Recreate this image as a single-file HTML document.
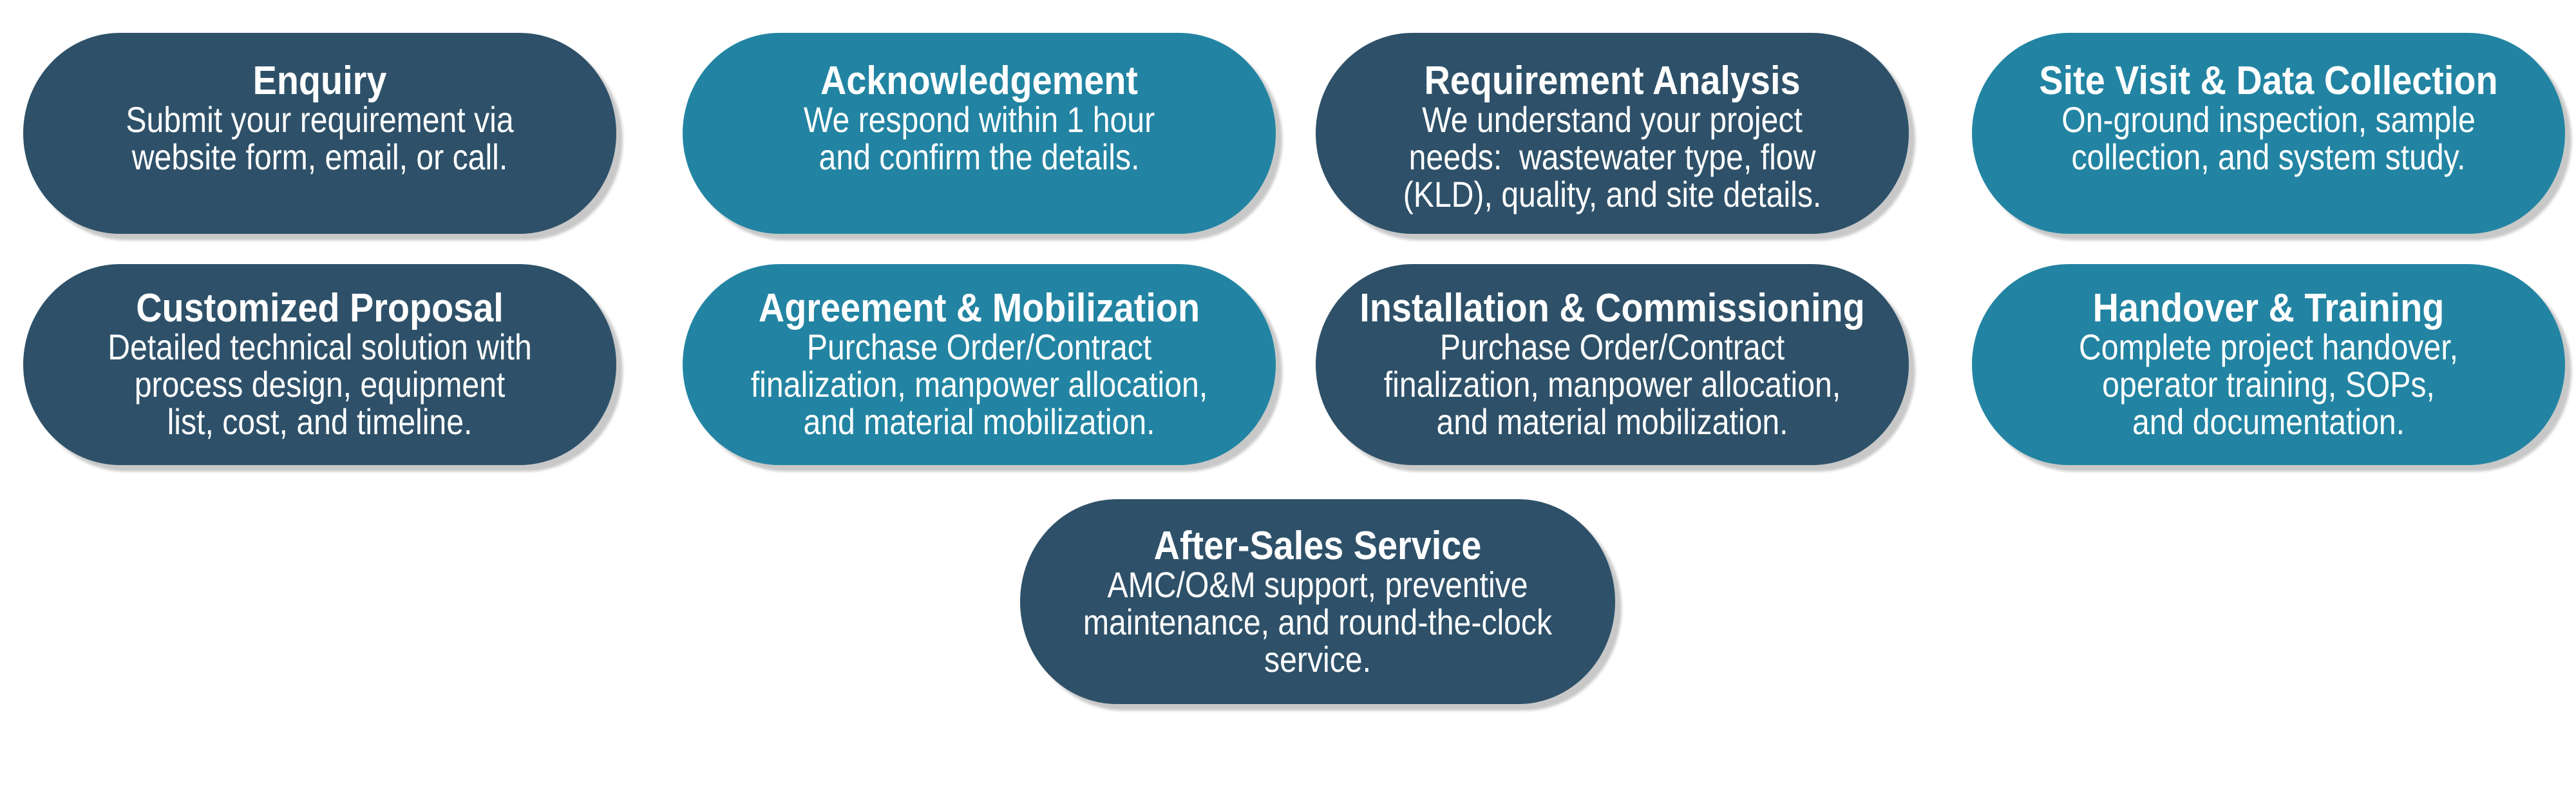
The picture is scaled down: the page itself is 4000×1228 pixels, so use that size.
<!DOCTYPE html>
<html><head><meta charset="utf-8"><style>
html,body{margin:0;padding:0;background:#fff;}
body{width:4000px;height:1228px;position:relative;overflow:hidden;font-family:"Liberation Sans",sans-serif;}
.b{position:absolute;width:921px;height:312px;border-radius:150px/50%;box-shadow:10px 10px 4px #c8c8c8;color:#fff;text-align:center;box-sizing:border-box;padding-top:44px;}
.d{background:#2e5169;}
.t{background:#2284a2;}
.b h{display:block;font-weight:bold;font-size:62px;line-height:62px;transform:scaleX(0.9);white-space:nowrap;}
.b p{margin:0;font-size:56px;line-height:58px;transform:scaleX(0.86);white-space:nowrap;}
</style></head><body>
<div class="b d" style="left:36px;top:51px"><h>Enquiry</h><p>Submit your requirement via<br>website form, email, or call.</p></div>
<div class="b t" style="left:1060px;top:51px"><h>Acknowledgement</h><p>We respond within 1 hour<br>and confirm the details.</p></div>
<div class="b d" style="left:2043px;top:51px"><h>Requirement Analysis</h><p>We understand your project<br>needs:&nbsp; wastewater type, flow<br>(KLD), quality, and site details.</p></div>
<div class="b t" style="left:3062px;top:51px"><h>Site Visit &amp; Data Collection</h><p>On-ground inspection, sample<br>collection, and system study.</p></div>
<div class="b d" style="left:36px;top:410px;padding-top:38px"><h>Customized Proposal</h><p>Detailed technical solution with<br>process design, equipment<br>list, cost, and timeline.</p></div>
<div class="b t" style="left:1060px;top:410px;padding-top:38px"><h>Agreement &amp; Mobilization</h><p>Purchase Order/Contract<br>finalization, manpower allocation,<br>and material mobilization.</p></div>
<div class="b d" style="left:2043px;top:410px;padding-top:38px"><h>Installation &amp; Commissioning</h><p>Purchase Order/Contract<br>finalization, manpower allocation,<br>and material mobilization.</p></div>
<div class="b t" style="left:3062px;top:410px;padding-top:38px"><h>Handover &amp; Training</h><p>Complete project handover,<br>operator training, SOPs,<br>and documentation.</p></div>
<div class="b d" style="left:1584px;top:775px;width:924px;height:318px;padding-top:42px"><h>After-Sales Service</h><p>AMC/O&amp;M support, preventive<br>maintenance, and round-the-clock<br>service.</p></div>
</body></html>
